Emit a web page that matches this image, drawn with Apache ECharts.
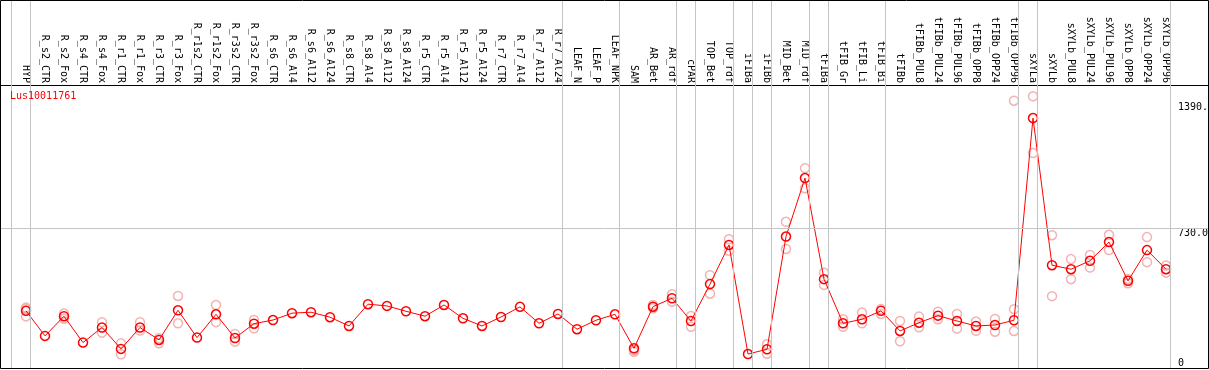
<!DOCTYPE html>
<html>
<head>
<meta charset="utf-8">
<script src="https://cdn.jsdelivr.net/npm/echarts@6/dist/echarts.min.js"></script>
<style>
    html, body { margin: 0; padding: 0; background: #fff; }
    #chart { width: 1209px; height: 370px; }
</style>
</head>
<body>
<div id="chart"></div>
<script>
var geneName = 'Lus10011761';

var categories = ['HYP', 'R_s2_CTR', 'R_s2_Fox', 'R_s4_CTR', 'R_s4_Fox', 'R_r1_CTR', 'R_r1_Fox',
    'R_r3_CTR', 'R_r3_Fox', 'R_r1s2_CTR', 'R_r1s2_Fox', 'R_r3s2_CTR', 'R_r3s2_Fox',
    'R_s6_CTR', 'R_s6_Al4', 'R_s6_Al12', 'R_s6_Al24', 'R_s8_CTR', 'R_s8_Al4', 'R_s8_Al12', 'R_s8_Al24',
    'R_r5_CTR', 'R_r5_Al4', 'R_r5_Al12', 'R_r5_Al24', 'R_r7_CTR', 'R_r7_Al4', 'R_r7_Al12', 'R_r7_Al24',
    'LEAF_N', 'LEAF_P', 'LEAF_NPK', 'SAM', 'AR_Bet', 'AR_rdf', 'cPAR', 'TOP_Bet', 'TOP_rdf',
    'iFIBa', 'iFIBb', 'MID_Bet', 'MID_rdf', 'tFIBa', 'tFIB_Gr', 'tFIB_Li', 'tFIB_Bi',
    'tFIBb', 'tFIBb_PUL8', 'tFIBb_PUL24', 'tFIBb_PUL96', 'tFIBb_OPP8', 'tFIBb_OPP24', 'tFIBb_OPP96',
    'sXYLa', 'sXYLb', 'sXYLb_PUL8', 'sXYLb_PUL24', 'sXYLb_PUL96', 'sXYLb_OPP8', 'sXYLb_OPP24', 'sXYLb_OPP96'];

// mean expression (red line)
var meanValues = [299, 168, 271, 133, 212, 100, 212, 147, 302, 159, 281, 157, 232,
    251, 287, 292, 266, 220, 334, 325, 297, 271, 330, 260, 220, 267, 320, 234, 283,
    203, 250, 281, 103, 321, 365, 246, 439, 644, 73, 98, 688, 994, 465, 234, 255, 299,
    194, 237, 274, 246, 220, 225, 250, 1308, 538, 517, 561, 659, 456, 617, 517];

// replicates (pale circles), null where hidden behind the mean
var repHigh = [316, null, 285, null, 240, 129, 240, 156, 377, null, 330, 178, 251,
    null, null, null, null, null, null, null, null, null, null, null, null, null, null, null, null,
    null, null, null, 94, 330, 386, 272, 486, 674, null, 124, 765, 1046, 499, 255, 290, 309,
    246, 269, 295, 283, 243, 257, 308, 1422, 695, 570, 592, 697, 466, 685, 536];
var repLow = [270, null, 258, null, 185, 72, 196, 129, 234, null, 240, 138, 208,
    null, null, null, null, null, null, null, null, null, null, null, null, null, null, null, null,
    null, null, null, 85, 313, 347, 216, 389, 613, null, 75, 623, 941, 435, 216, 234, 283,
    140, 213, 255, 206, 195, 190, 194, 1125, 376, 465, 526, 617, 444, 554, 499];
var repMid = [309, null, null, null, null, null, null, null, null, null, null, null, null,
    null, null, null, null, null, null, null, null, null, null, null, null, null, null, null, null,
    null, null, null, null, null, null, null, null, null, null, null, null, null, null, null, null,
    null, null, null, null, null, null, null, 1399, null, null, null, null, null, null, null];

// last category index of each sample group (grey separators)
var groupEnds = [-1, 0, 28, 31, 34, 35, 37, 38, 39, 41, 42, 45, 52, 53, 60];
var yTicks = [0, 730, 1390];

var FONT = 'DejaVu Sans Mono';

function toPoints(arr) {
    var out = [];
    for (var i = 0; i < arr.length; i++) {
        if (arr[i] != null) out.push([i, arr[i]]);
    }
    return out;
}

var repPoints = toPoints(repHigh).concat(toPoints(repLow), toPoints(repMid));

var myChart = echarts.init(document.getElementById('chart'), null, { renderer: 'canvas' });

var option = {
    animation: false,
    title: {
        text: geneName,
        left: 10,
        top: 91,
        padding: 0,
        textStyle: { color: '#ff0000', fontSize: 10, fontWeight: 'normal', fontFamily: FONT }
    },
    grid: { left: 0, right: 0, top: 0, bottom: 2, containLabel: false, outerBoundsMode: 'none' },
    xAxis: {
        type: 'value',
        position: 'top',
        offset: -85,
        min: -26 / 19,
        max: 1183 / 19,
        axisLine: { show: true, onZero: false, lineStyle: { color: '#000', width: 1 } },
        axisTick: { show: false },
        splitLine: { show: false },
        axisLabel: {
            customValues: categories.map(function (c, i) { return i; }),
            rotate: 90,
            margin: 2,
            color: '#000',
            fontSize: 10,
            fontFamily: FONT,
            formatter: function (v) { return categories[Math.round(v)] || ''; }
        }
    },
    yAxis: {
        type: 'value',
        position: 'right',
        min: 0,
        max: 1926,
        axisLine: { show: false },
        axisTick: { show: false },
        splitLine: { show: false },
        axisLabel: {
            customValues: yTicks,
            inside: true,
            margin: 31,
            align: 'left',
            verticalAlign: 'top',
            verticalAlignMinLabel: 'bottom',
            color: '#000',
            fontSize: 10,
            fontFamily: FONT,
            formatter: function (v) { return v === 0 ? '0' : v.toFixed(1); }
        }
    },
    graphic: [{
        type: 'rect',
        silent: true,
        shape: { x: 0.5, y: 0.5, width: 1208, height: 368 },
        style: { fill: 'none', stroke: '#000', lineWidth: 1 },
        z: 100
    }],
    series: [{
        name: 'replicates',
        type: 'scatter',
        data: repPoints,
        symbol: 'circle',
        symbolSize: 9,
        itemStyle: { color: 'rgba(0,0,0,0)', borderColor: '#f0a0a0', borderWidth: 1.5 },
        z: 3,
        markLine: {
            silent: true,
            symbol: 'none',
            label: { show: false },
            lineStyle: { color: '#c4c4c4', width: 1, type: 'solid' },
            data: groupEnds.map(function (e) { return { xAxis: e + 4.5 / 19 }; })
                .concat([{ yAxis: 730 }])
        }
    }, {
        name: geneName,
        type: 'line',
        data: toPoints(meanValues),
        symbol: 'circle',
        symbolSize: 9,
        showAllSymbol: true,
        lineStyle: { color: '#ff0000', width: 1 },
        itemStyle: { color: 'rgba(0,0,0,0)', borderColor: '#ff0000', borderWidth: 1.5 },
        z: 4
    }]
};

myChart.setOption(option);
</script>
</body>
</html>
